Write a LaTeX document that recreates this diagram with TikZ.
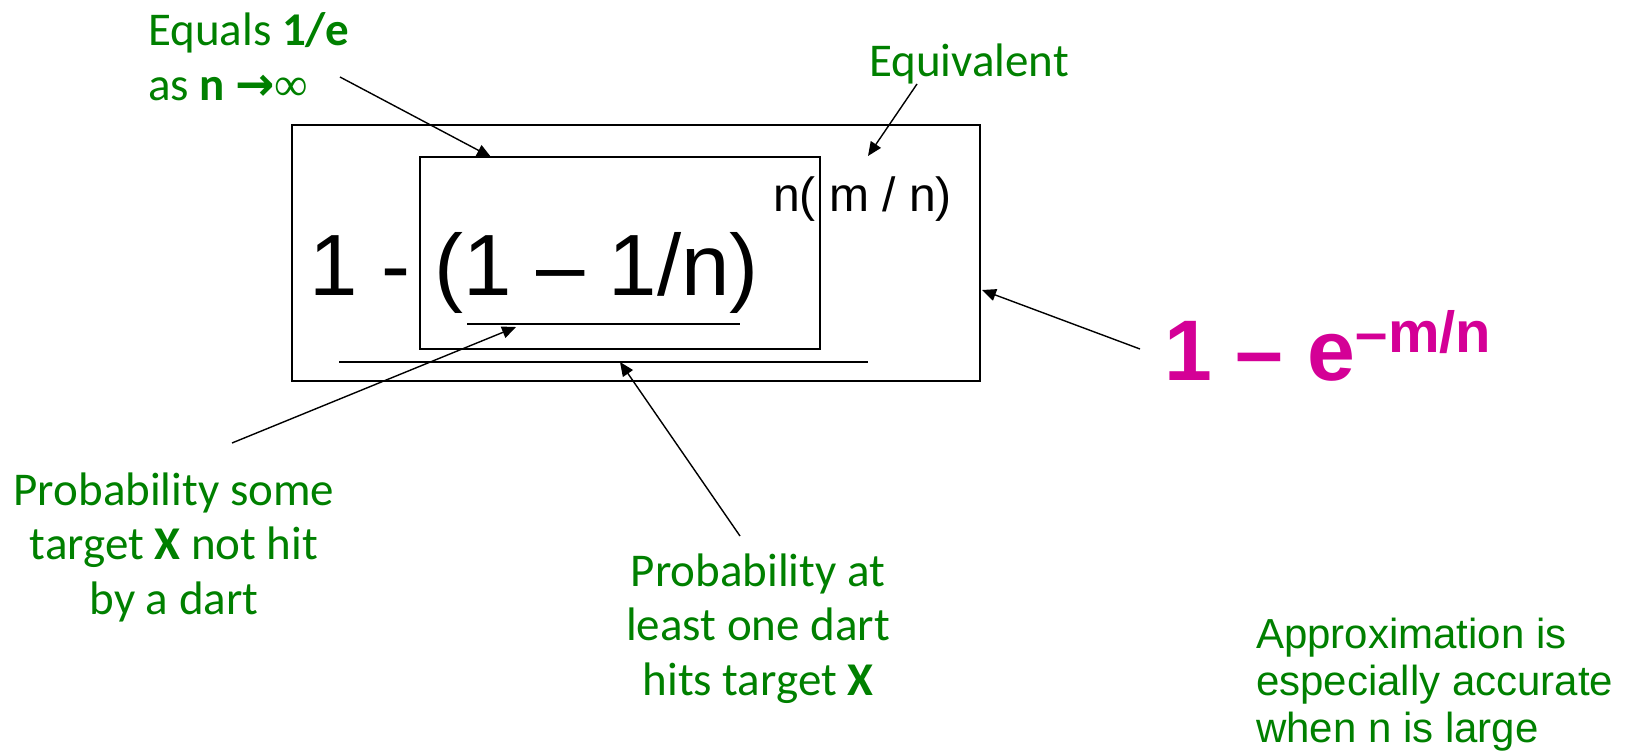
\documentclass[tikz,border=0pt]{standalone}
\usepackage{fontspec}
\setmainfont{Carlito}
\newfontfamily\arialf{Liberation Sans}
\newfontfamily\serifsym{Liberation Serif}
\newfontfamily\dejavuf{DejaVu Sans}
\usetikzlibrary{arrows.meta}
\definecolor{lblgreen}{RGB}{0,128,0}
\definecolor{formpink}{RGB}{212,0,150}
\begin{document}
\begin{tikzpicture}[x=1pt,y=-1pt,
  boxnode/.style={draw=black, line width=2pt, inner sep=0pt, outer sep=0pt, anchor=north west},
  rule/.style={draw=black, line width=2pt},
  arr/.style={draw=black, line width=1.4pt, -{Triangle[length=14pt,width=12pt]}},
  lbl/.style={text=lblgreen, inner sep=0pt, font=\fontsize{47}{54.5}\selectfont},
  formula/.style={inner sep=0pt, anchor=base west, font=\arialf\fontsize{87}{100}\selectfont},
  expo/.style={inner sep=0pt, anchor=base west, font=\arialf\fontsize{48}{56}\selectfont},
  pinkbig/.style={inner sep=0pt, anchor=base west, text=formpink, font=\arialf\bfseries\fontsize{86}{100}\selectfont},
  pinksup/.style={inner sep=0pt, anchor=base west, text=formpink, font=\arialf\bfseries\fontsize{58}{62}\selectfont},
  note/.style={inner sep=0pt, text=lblgreen, align=left, anchor=base west, font=\arialf\fontsize{42}{47}\selectfont}
]
\useasboundingbox (0,0) rectangle (1627,755);

% boxes
\node[boxnode, minimum width=688pt, minimum height=256pt] (outer) at (292,125) {};
\node[boxnode, minimum width=400pt, minimum height=192pt] (inner) at (420,157) {};

% formula
\node[formula] (lhs) at (309,295) {1 - (1 – 1/n)};
\node[expo] (exponent) at (773,211) {n( m / n)};

% underlines
\coordinate (ushortA) at (467,324);
\coordinate (ushortB) at (740,324);
\coordinate (ulongA) at (339,362);
\coordinate (ulongB) at (868,362);
\draw[rule] (ushortA) -- (ushortB);
\draw[rule] (ulongA) -- (ulongB);

% approximation
\node[pinkbig] (approx) at (1164,380) {1 – e};
\node[pinksup, yshift=28pt] (approxsup) at (approx.base east) {–m/n};

% labels (base anchor = last line's baseline)
\node[lbl, anchor=base west, align=left] (equals) at (148,100)
  {Equals \textbf{1/e}\\as \textbf{n} {\dejavuf\bfseries →}{\serifsym ∞}};
\node[lbl, anchor=base west] (equiv) at (869,76) {Equivalent};
\node[lbl, align=center, anchor=base] (psome) at (174,614)
  {Probability some\\target \textbf{X} not hit\\by a dart};
\node[lbl, align=center, anchor=base] (pleast) at (758,695)
  {Probability at\\least one dart\\hits target \textbf{X}};
\node[note] (accnote) at (1256,742) {Approximation is\\especially accurate\\when n is large};

% arrows
\coordinate (eqtail) at (340,77);
\coordinate (eqtip) at (491,157);
\coordinate (evtail) at (917,84);
\coordinate (evtip) at (868,156);
\coordinate (aptail) at (1140,349);
\coordinate (aptip) at (982,290);
\coordinate (pstail) at (232,443);
\coordinate (pstip) at (516,327);
\coordinate (pltail) at (740,536);
\coordinate (pltip) at (620,362);
\draw[arr] (eqtail) -- (eqtip);
\draw[arr] (evtail) -- (evtip);
\draw[arr] (aptail) -- (aptip);
\draw[arr] (pstail) -- (pstip);
\draw[arr] (pltail) -- (pltip);
\end{tikzpicture}
\end{document}
